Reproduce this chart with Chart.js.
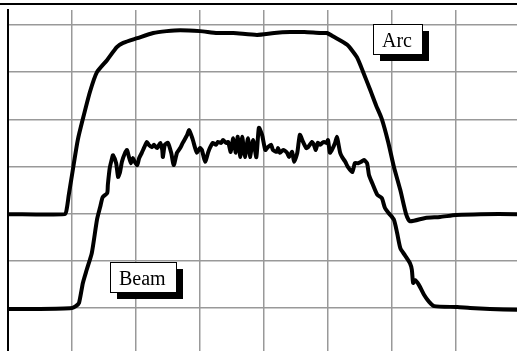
<!DOCTYPE html>
<html>
<head>
<meta charset="utf-8">
<script src="https://cdn.jsdelivr.net/npm/chart.js@4/dist/chart.umd.min.js"></script>
<style>
    body { margin: 0; background: #fff; }
    .wrap { position: relative; width: 517px; height: 351px; }
    .top-rule { position: absolute; left: 0; top: 3px; width: 517px; height: 2px; background: #000; }
</style>
</head>
<body>
<div class="wrap">
    <canvas id="chart"></canvas>
    <div class="top-rule"></div>
</div>
<script>
    // grid units: one cell = one unit on each axis
    const arcX = [0, 0.89, 0.92, 0.95, 1.00, 1.02, 1.09, 1.17, 1.28, 1.39, 1.55, 1.70, 1.80, 2.02, 2.27, 2.48, 2.69, 3.00, 3.27, 3.52, 3.89, 4.16, 4.41, 4.63, 4.88, 4.98, 5.09, 5.30, 5.45, 5.55, 5.66, 5.75, 5.84, 5.94, 6.03, 6.13, 6.22, 6.28, 6.52, 6.75, 7.00, 7.38, 7.95];
    const arcY = [1.99, 1.99, 2.12, 2.40, 2.82, 2.99, 3.56, 4.01, 4.58, 5.00, 5.26, 5.53, 5.62, 5.72, 5.83, 5.87, 5.89, 5.87, 5.83, 5.83, 5.79, 5.83, 5.85, 5.85, 5.83, 5.83, 5.75, 5.58, 5.32, 5.00, 4.62, 4.30, 4.01, 3.52, 2.99, 2.50, 1.99, 1.84, 1.91, 1.93, 1.97, 1.99, 1.99];

    const beamX = [0, 0.50, 1.00, 1.06, 1.11, 1.17, 1.23, 1.31, 1.39, 1.44, 1.48, 1.55, 1.56, 1.59, 1.63, 1.64, 1.69, 1.72, 1.75, 1.78, 1.83, 1.86, 1.89, 1.92, 1.95, 1.98, 2.02, 2.05, 2.09, 2.13, 2.17, 2.20, 2.25, 2.28, 2.33, 2.38, 2.41, 2.42, 2.45, 2.50, 2.55, 2.59, 2.64, 2.69, 2.73, 2.80, 2.83, 2.88, 2.92, 2.95, 3.00, 3.03, 3.08, 3.13, 3.16, 3.20, 3.25, 3.28, 3.33, 3.36, 3.41, 3.44, 3.48, 3.52, 3.56, 3.59, 3.63, 3.66, 3.70, 3.75, 3.78, 3.83, 3.88, 3.92, 3.97, 4.02, 4.06, 4.11, 4.14, 4.20, 4.22, 4.25, 4.30, 4.36, 4.39, 4.44, 4.47, 4.52, 4.56, 4.61, 4.66, 4.69, 4.75, 4.78, 4.81, 4.84, 4.88, 4.91, 4.94, 4.98, 5.00, 5.03, 5.06, 5.11, 5.14, 5.16, 5.19, 5.22, 5.27, 5.31, 5.38, 5.42, 5.47, 5.52, 5.56, 5.61, 5.64, 5.69, 5.77, 5.84, 5.89, 5.95, 6.03, 6.08, 6.13, 6.20, 6.28, 6.31, 6.33, 6.36, 6.42, 6.50, 6.58, 6.66, 7.02, 7.22, 7.53, 7.95];
    const beamY = [-0.02, -0.02, 0.00, 0.04, 0.11, 0.53, 0.81, 1.17, 1.87, 2.14, 2.35, 2.44, 2.61, 2.97, 3.20, 3.24, 3.07, 2.78, 2.88, 3.10, 3.29, 3.35, 3.20, 3.07, 3.18, 3.10, 3.03, 3.18, 3.29, 3.41, 3.52, 3.46, 3.41, 3.46, 3.39, 3.50, 3.35, 3.20, 3.46, 3.50, 3.29, 3.03, 3.29, 3.39, 3.50, 3.67, 3.77, 3.60, 3.41, 3.29, 3.39, 3.35, 3.10, 3.31, 3.41, 3.50, 3.46, 3.52, 3.50, 3.56, 3.50, 3.52, 3.31, 3.60, 3.29, 3.63, 3.20, 3.63, 3.20, 3.60, 3.20, 3.56, 3.20, 3.82, 3.67, 3.35, 3.41, 3.46, 3.35, 3.31, 3.39, 3.29, 3.35, 3.29, 3.20, 3.31, 3.10, 3.29, 3.67, 3.52, 3.39, 3.41, 3.52, 3.46, 3.35, 3.50, 3.46, 3.50, 3.52, 3.50, 3.56, 3.29, 3.35, 3.50, 3.63, 3.50, 3.29, 3.20, 3.10, 2.99, 2.88, 3.07, 3.07, 3.10, 3.14, 3.07, 2.82, 2.65, 2.40, 2.33, 2.12, 2.01, 1.87, 1.59, 1.27, 1.12, 0.95, 0.81, 0.53, 0.59, 0.49, 0.28, 0.13, 0.04, 0.02, 0.00, -0.02, -0.04];

    // callout boxes: text and top-left corner in grid units
    const calloutText = ['Arc', 'Beam'];
    const calloutX = [5.70, 1.59];
    const calloutY = [6.02, 0.975];

    function toPoints(xs, ys) {
        return xs.map((x, i) => ({ x: x, y: ys[i] }));
    }

    const calloutPlugin = {
        id: 'callouts',
        afterDatasetsDraw(chart) {
            const ctx = chart.ctx;
            const xs = chart.scales.x;
            const ys = chart.scales.y;
            ctx.save();
            ctx.font = '20px "Liberation Serif", "Times New Roman", serif';
            calloutText.forEach((text, i) => {
                const left = Math.round(xs.getPixelForValue(calloutX[i]));
                const top = Math.round(ys.getPixelForValue(calloutY[i]));
                const w = Math.round(ctx.measureText(text).width + 19);
                const h = 30;
                ctx.fillStyle = '#000';
                ctx.fillRect(left + 7, top + 7, w, h);
                ctx.fillStyle = '#fff';
                ctx.fillRect(left, top, w, h);
                ctx.strokeStyle = '#000';
                ctx.lineWidth = 1;
                ctx.strokeRect(left + 0.5, top + 0.5, w, h);
                ctx.fillStyle = '#000';
                ctx.textBaseline = 'alphabetic';
                ctx.fillText(text, left + 9, top + 23);
            });
            ctx.restore();
        }
    };

    const lineStyle = {
        borderColor: '#000',
        borderWidth: 4,
        pointRadius: 0,
        tension: 0.2,
        borderJoinStyle: 'round',
        borderCapStyle: 'round',
        fill: false
    };

    const chart = new Chart(document.getElementById('chart'), {
        type: 'line',
        data: {
            datasets: [
                Object.assign({ label: 'Arc', data: toPoints(arcX, arcY) }, lineStyle),
                Object.assign({ label: 'Beam', data: toPoints(beamX, beamY) }, lineStyle)
            ]
        },
        options: {
            responsive: true,
            maintainAspectRatio: false,
            animation: false,
            layout: { padding: { left: 8, top: 10, right: 0, bottom: 0 } },
            plugins: {
                legend: { display: false },
                tooltip: { enabled: false }
            },
            scales: {
                x: {
                    type: 'linear',
                    min: 0,
                    max: 7.953,
                    ticks: { display: false, stepSize: 1, includeBounds: false },
                    grid: { color: '#999', lineWidth: 1.5, drawTicks: false },
                    border: { display: false }
                },
                y: {
                    min: -0.912,
                    max: 6.318,
                    ticks: { display: false, stepSize: 1, includeBounds: false },
                    grid: { color: '#999', lineWidth: 1.5, drawTicks: false },
                    border: { display: true, color: '#000', width: 2 }
                }
            }
        },
        plugins: [calloutPlugin]
    });
</script>
</body>
</html>
